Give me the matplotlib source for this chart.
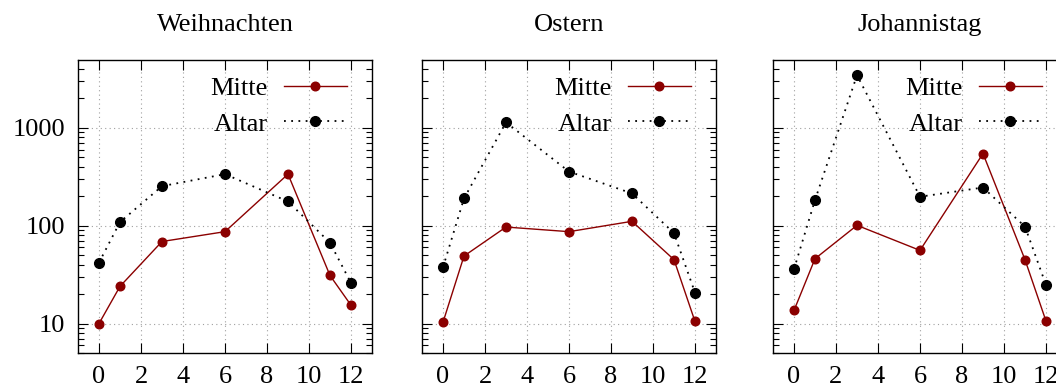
import numpy as np
import matplotlib.pyplot as plt
from matplotlib.ticker import LogLocator, NullFormatter, FixedLocator

plt.rcParams["font.family"] = ["Liberation Serif", "DejaVu Serif"]
plt.rcParams["font.size"] = 19

days = [0, 1, 3, 6, 9, 11, 12]
titles = ["Weihnachten", "Ostern", "Johannistag"]

mitte_weihnachten = [10, 24, 69, 87, 337, 31, 15.4]
altar_weihnachten = [42, 109, 254, 337, 177, 67, 26]
mitte_ostern = [10.3, 49, 97, 87, 111, 45, 10.5]
altar_ostern = [37.6, 190, 1140, 358, 214, 84, 20.7]
mitte_johannis = [13.6, 46, 101, 56, 547, 45, 10.6]
altar_johannis = [36, 183, 3460, 198, 246, 98, 24.8]

mitte = [mitte_weihnachten, mitte_ostern, mitte_johannis]
altar = [altar_weihnachten, altar_ostern, altar_johannis]

W, H = 1056, 387
fig = plt.figure(figsize=(W / 100, H / 100), dpi=100)

lefts = [78, 422, 773]
ax_w, ax_b, ax_h = 294, 34, 293

for i in range(3):
    ax = fig.add_axes([lefts[i] / W, ax_b / H, ax_w / W, ax_h / H])
    ax.set_yscale("log")
    ax.plot(days, mitte[i], color="#8b0000", lw=1.0, marker="o", ms=6.2,
            label="Mitte")
    ax.plot(days, altar[i], color="black", lw=1.3, ls=(0, (1, 3)),
            marker="o", ms=7, label="Altar")
    ax.set_xlim(-1, 13)
    ax.set_ylim(5, 4950)
    ax.xaxis.set_major_locator(FixedLocator([0, 2, 4, 6, 8, 10, 12]))
    ax.yaxis.set_major_locator(LogLocator(base=10))
    ax.yaxis.set_minor_locator(LogLocator(base=10, subs=np.arange(2, 10)))
    ax.yaxis.set_minor_formatter(NullFormatter())
    ax.set_yticks([10, 100, 1000])
    ax.set_yticklabels(["10", "100", "1000"] if i == 0 else [])
    ax.tick_params(which="both", direction="in", top=True, right=True,
                   labelsize=19, width=0.8)
    ax.tick_params(which="major", length=7, pad=9)
    ax.tick_params(axis="x", which="major", pad=9.5)
    ax.tick_params(which="minor", length=4)
    ax.grid(True, which="major", color="#a0a0a0", ls=(0, (1, 3)), lw=0.8)
    for s in ax.spines.values():
        s.set_linewidth(1.0)
    ax.set_title(titles[i], fontsize=19, pad=21)
    ax.legend(loc="upper right", bbox_to_anchor=(0.915, 0.942),
              frameon=False, markerfirst=False, fontsize=19,
              handlelength=2.4, borderaxespad=0, borderpad=0,
              labelspacing=0.44, handletextpad=0.6)

fig.savefig("out.png", dpi=100)
